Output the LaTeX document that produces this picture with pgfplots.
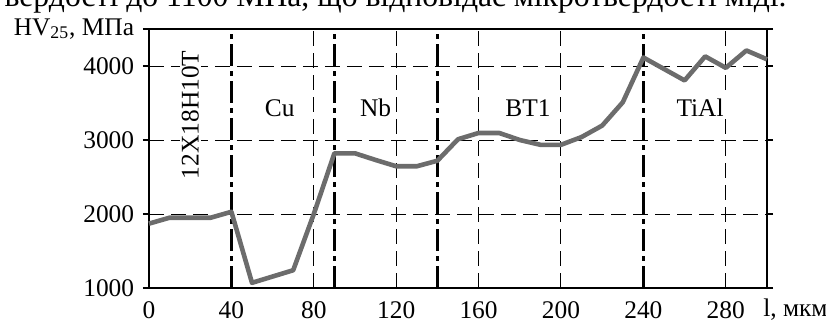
\documentclass[border=0pt]{standalone}
\usepackage{pgfplots}
\pgfplotsset{compat=1.18}
\usepackage{fontspec}
\setmainfont{Liberation Serif}
\definecolor{curve}{RGB}{108,108,108}
\begin{document}
\fontsize{12.7}{15}\selectfont
\begin{tikzpicture}
\begin{axis}[
  scale only axis, width=309pt, height=129.5pt,
  at={(0,0)}, anchor=south west,
  xmin=0, xmax=300, ymin=1000, ymax=4500,
  xtick={0,40,80,120,160,200,240,280},
  xtick style={draw=none},
  extra x ticks={80,120,160,200,280},
  extra x tick labels={},
  extra x tick style={grid=major, xtick style={draw=none}},
  ytick={1000,2000,3000,4000,4500},
  yticklabels={1000,2000,3000,4000,{HV\textsubscript{25}, МПа}},
  ymajorgrids=true,
  tick align=outside,
  major tick length=3pt,
  ytick style={black, line width=0.6pt},
  major grid style={black, line width=0.5pt, dash pattern=on 7.5pt off 3.5pt},
  axis line style={black, line width=1.4pt},
  /pgf/number format/assume math mode=true,
  /pgf/number format/set thousands separator={},
  xticklabel style={yshift=0.5pt},
  clip=false,
]
\addplot[black, line width=1.3pt, dash pattern=on 11pt off 2.5pt on 2.5pt off 2.5pt] coordinates {(40,1000)(40,4500)};
\addplot[black, line width=1.3pt, dash pattern=on 11pt off 2.5pt on 2.5pt off 2.5pt] coordinates {(90,1000)(90,4500)};
\addplot[black, line width=1.3pt, dash pattern=on 11pt off 2.5pt on 2.5pt off 2.5pt] coordinates {(140,1000)(140,4500)};
\addplot[black, line width=1.3pt, dash pattern=on 11pt off 2.5pt on 2.5pt off 2.5pt] coordinates {(240,1000)(240,4500)};
\addplot[curve, line width=2.3pt, line join=round] coordinates {
(0,1870)(10,1950)(20,1950)(30,1950)(40,2030)(50,1070)(60,1155)(70,1240)
(80,2000)(90,2820)(100,2820)(110,2730)(120,2645)(130,2645)(140,2720)
(150,3010)(160,3095)(170,3095)(180,3000)(190,2935)(200,2935)(210,3040)
(220,3195)(230,3510)(240,4115)(250,3960)(260,3805)(270,4130)(280,3975)
(290,4210)(300,4090)};
\node[rotate=90, fill=white, inner sep=1pt] at (axis cs:20,3340) {12X18H10T};
\node[fill=white, inner sep=1pt] at (axis cs:63.5,3430) {Cu};
\node[fill=white, inner sep=1pt] at (axis cs:110,3430) {Nb};
\node[fill=white, inner sep=1pt] at (axis cs:184,3430) {BT1};
\node[fill=white, inner sep=1pt] at (axis cs:267.5,3440) {TiAl};
\node[anchor=base west, inner sep=0pt] at (axis cs:298,610) {l, мкм};
\end{axis}
\node[anchor=base east, inner sep=0pt, font=\fontsize{15.85}{17}\selectfont] at (319pt,140.5pt) {вердості до 1100 МПа, що відповідає мікротвердості міді.};
\pgfresetboundingbox
\path[use as bounding box] (-74.5pt,-17pt) rectangle (338.5pt,144pt);
\end{tikzpicture}
\end{document}
